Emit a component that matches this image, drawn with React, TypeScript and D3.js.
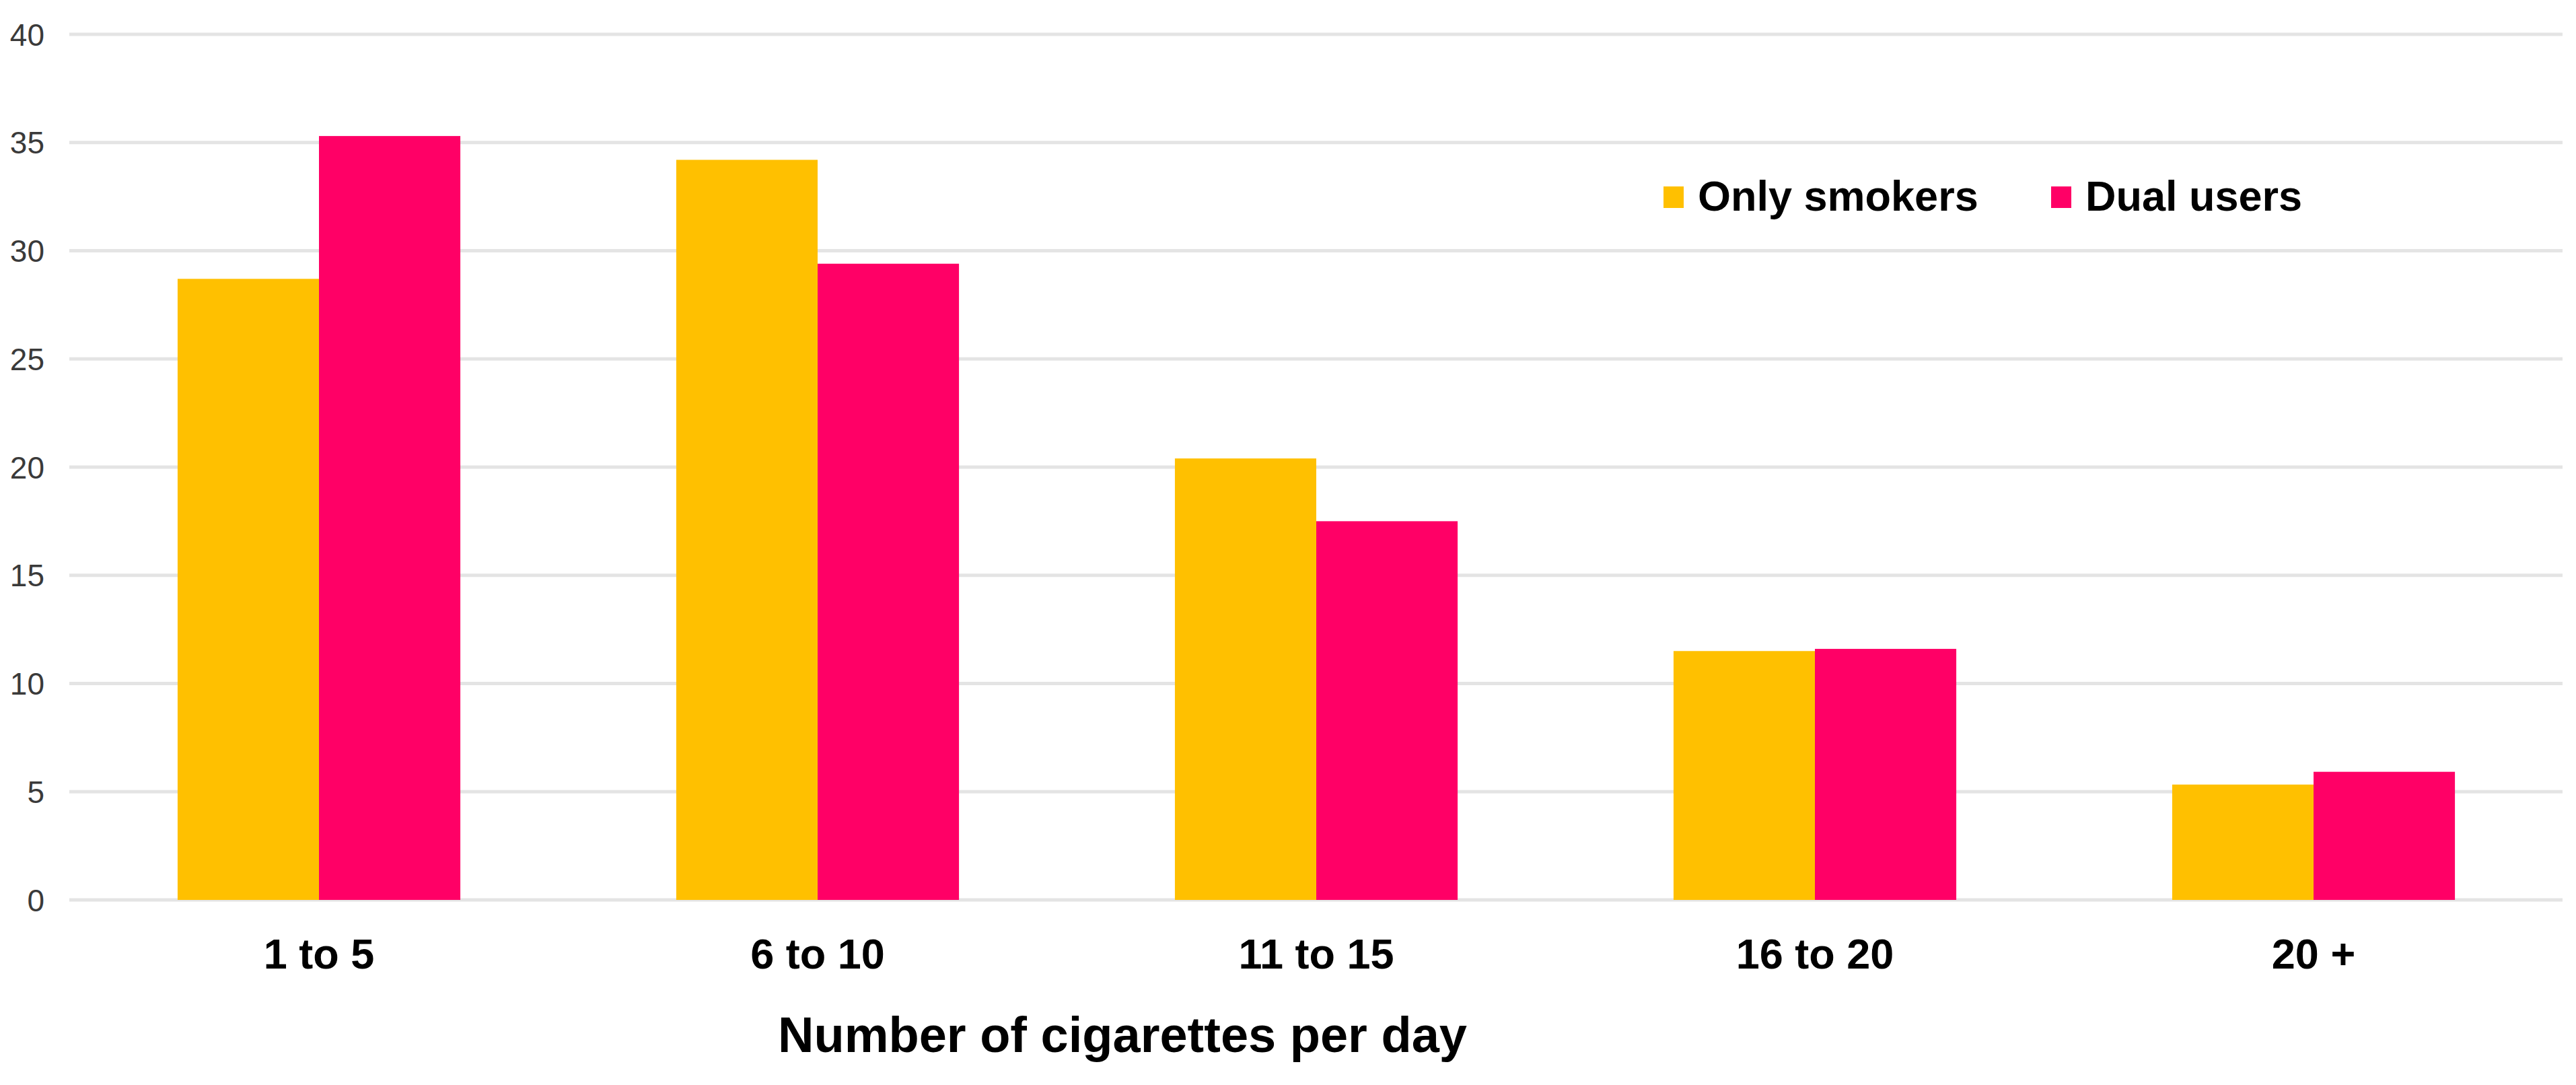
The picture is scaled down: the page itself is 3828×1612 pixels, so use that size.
import React from "react";
import * as d3 from "d3";

const categories = ["1 to 5", "6 to 10", "11 to 15", "16 to 20", "20 +"];
const seriesNames = ["Only smokers", "Dual users"];
const onlySmokers = [28.7, 34.2, 20.4, 11.5, 5.33];
const dualUsers = [35.3, 29.4, 17.5, 11.6, 5.92];
const yTicks = [0, 5, 10, 15, 20, 25, 30, 35, 40];
const colors = ["#FFC000", "#FF0066"];
const xTitle = "Number of cigarettes per day";

const W = 3828;
const H = 1612;
const FONT = "'Liberation Sans', Arial, Helvetica, sans-serif";

export default function App() {
  const x0 = d3
    .scaleBand<string>()
    .domain(categories)
    .range([103.5, 3808.5])
    .paddingInner(0.433)
    .paddingOuter(0.2165);
  const x1 = d3
    .scaleBand<string>()
    .domain(seriesNames)
    .range([0, x0.bandwidth()])
    .padding(0);
  const y = d3.scaleLinear().domain([0, 40]).range([1337, 51]);
  const series = [onlySmokers, dualUsers];

  return (
    <svg
      width={W}
      height={H}
      style={{ position: "absolute", left: 0, top: 0, background: "#fff" }}
      fontFamily={FONT}
    >
      <rect x={0} y={0} width={W} height={H} fill="#fff" />
      {yTicks.map((t) => (
        <g key={t}>
          <line
            x1={103}
            x2={3808}
            y1={y(t)}
            y2={y(t)}
            stroke="#e4e4e4"
            strokeWidth={5}
          />
          <text
            x={66}
            y={y(t)}
            dy="0.36em"
            textAnchor="end"
            fontSize={46}
            fill="#3a3a3a"
          >
            {t}
          </text>
        </g>
      ))}
      {categories.map((c, i) => (
        <g key={c} transform={`translate(${x0(c)},0)`}>
          {seriesNames.map((s, j) => (
            <rect
              key={s}
              x={x1(s)}
              y={y(series[j][i])}
              width={x1.bandwidth()}
              height={y(0) - y(series[j][i])}
              fill={colors[j]}
            />
          ))}
        </g>
      ))}
      {categories.map((c) => (
        <text
          key={c}
          x={(x0(c) as number) + x0.bandwidth() / 2}
          y={1439}
          textAnchor="middle"
          fontSize={63}
          fontWeight="bold"
          fill="#000"
        >
          {c}
        </text>
      ))}
      <text
        x={1668}
        y={1563}
        textAnchor="middle"
        fontSize={74}
        fontWeight="bold"
        fill="#000"
      >
        {xTitle}
      </text>
      {seriesNames.map((s, j) => {
        const lx = [2472, 3048][j];
        return (
          <g key={s}>
            <rect x={lx} y={277} width={30} height={32} fill={colors[j]} />
            <text
              x={lx + 51}
              y={313}
              fontSize={63}
              fontWeight="bold"
              fill="#000"
            >
              {s}
            </text>
          </g>
        );
      })}
    </svg>
  );
}
